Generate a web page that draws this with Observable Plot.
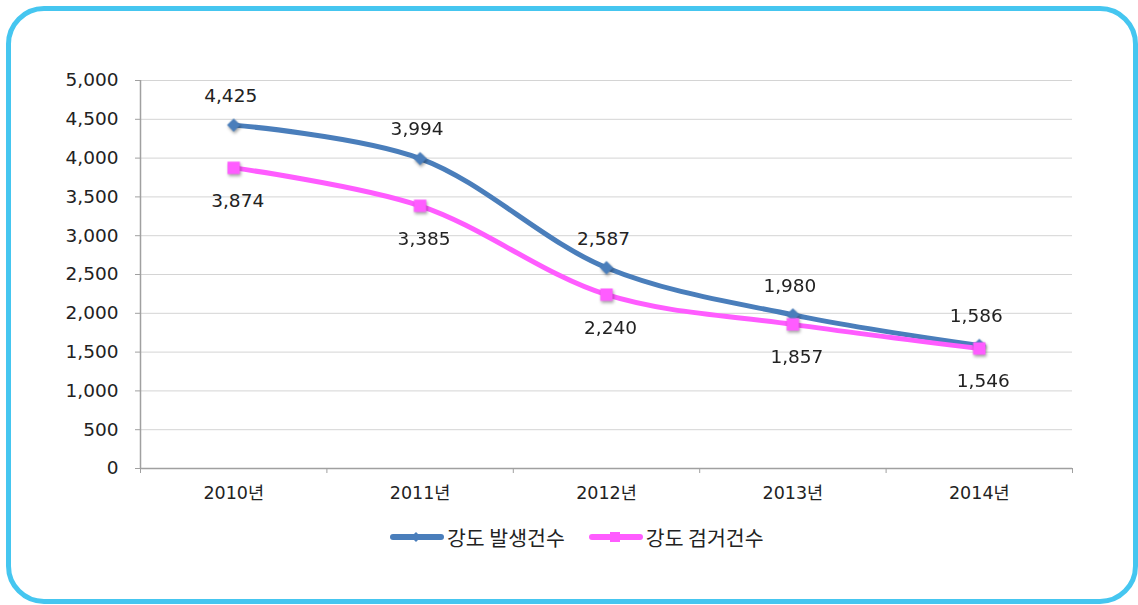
<!DOCTYPE html>
<html>
<head>
<meta charset="utf-8">
<script src="https://cdn.jsdelivr.net/npm/d3@7"></script>
<script src="https://cdn.jsdelivr.net/npm/@observablehq/plot@0.6"></script>
<style>
  html, body { margin: 0; padding: 0; background: #fff; }
  body { width: 1138px; height: 605px; position: relative; overflow: hidden;
         font-family: "DejaVu Sans", "Noto Sans CJK KR", sans-serif; }
  #frame { position: absolute; left: 6px; top: 6px; width: 1122px; height: 588px;
           border: 5px solid #45c6f0; border-radius: 38px; box-sizing: content-box; }
  #chart { position: absolute; left: 0; top: 0; }
  #chart g[aria-label="dot"] { filter: drop-shadow(1px 2px 1.5px rgba(0,0,0,0.35)); }
  #legend { position: absolute; top: 522px; left: 389px; display: flex; align-items: center;
            font-family: "Noto Sans CJK KR", sans-serif; font-size: 20.5px; color: #222; }
  .item { display: flex; align-items: center; margin-right: 23px; }
  .item svg { margin-right: 2px; }
</style>
</head>
<body>
<div id="frame"></div>
<div id="chart"></div>
<div id="legend"></div>
<script>
const years = ["2010년", "2011년", "2012년", "2013년", "2014년"];
const seriesNames = ["강도 발생건수", "강도 검거건수"];
const occurrences = [4425, 3994, 2587, 1980, 1586];
const arrests = [3874, 3385, 2240, 1857, 1546];
const colors = ["#4a7ebb", "#ff5cff"];
const yTicks = d3.range(0, 5001, 500);

const occData = years.map((y, i) => ({x: i + 0.5, year: y, value: occurrences[i], series: seriesNames[0]}));
const arrData = years.map((y, i) => ({x: i + 0.5, year: y, value: arrests[i], series: seriesNames[1]}));
const fmt = d3.format(",");

const plot = Plot.plot({
  width: 1138,
  height: 510,
  marginLeft: 140,
  marginRight: 66,
  marginTop: 80,
  marginBottom: 42,
  style: {fontFamily: '"DejaVu Sans", "Noto Sans CJK KR", sans-serif', background: "transparent", color: "#222"},
  x: {domain: [0, years.length], axis: null},
  y: {domain: [0, 5000], axis: null},
  color: {domain: seriesNames, range: colors},
  marks: [
    Plot.gridY(yTicks, {stroke: "#d4d4d4", strokeOpacity: 1}),
    Plot.ruleY([0], {stroke: "#a0a0a0", strokeWidth: 1.5}),
    Plot.ruleX([0], {stroke: "#a0a0a0", strokeWidth: 1.5}),
    Plot.axisY(yTicks, {tickSize: 5, tickPadding: 17, tickFormat: fmt, fontSize: 18.5, stroke: "#a0a0a0", fill: "#222", label: null}),
    Plot.axisX(d3.range(0, years.length + 1), {tickSize: 5, tickFormat: () => "", stroke: "#a0a0a0", label: null}),
    Plot.axisX(years.map((_, i) => i + 0.5), {tickSize: 0, tickPadding: 18, tickFormat: d => years[Math.floor(d)], fontSize: 17.5, fill: "#222", label: null}),
    Plot.line(occData, {x: "x", y: "value", stroke: "series", strokeWidth: 5, curve: "catmull-rom"}),
    Plot.line(arrData, {x: "x", y: "value", stroke: "series", strokeWidth: 5, curve: "catmull-rom"}),
    Plot.dot(occData, {x: "x", y: "value", fill: "series", symbol: "diamond2", r: 6}),
    Plot.dot(arrData, {x: "x", y: "value", fill: "series", symbol: "square", r: 7}),
    Plot.text(occData, {x: "x", y: "value", text: d => fmt(d.value), dy: -29, dx: -3, fontSize: 18.5, fill: "#222"}),
    Plot.text(arrData, {x: "x", y: "value", text: d => fmt(d.value), dy: 33, dx: 4, fontSize: 18.5, fill: "#222"})
  ]
});
document.getElementById("chart").appendChild(plot);

const legend = document.getElementById("legend");
const markers = [
  c => `<path d="M27,1 L32,6 L27,11 L22,6 Z" fill="${c}"/>`,
  c => `<rect x="22" y="1" width="10" height="10" fill="${c}"/>`
];
seriesNames.forEach((name, i) => {
  const item = document.createElement("div");
  item.className = "item";
  item.innerHTML = `<svg width="56" height="12"><line x1="4" y1="6" x2="52" y2="6" stroke="${colors[i]}" stroke-width="6" stroke-linecap="round"/>${markers[i](colors[i])}</svg><span>${name}</span>`;
  legend.appendChild(item);
});
</script>
</body>
</html>
